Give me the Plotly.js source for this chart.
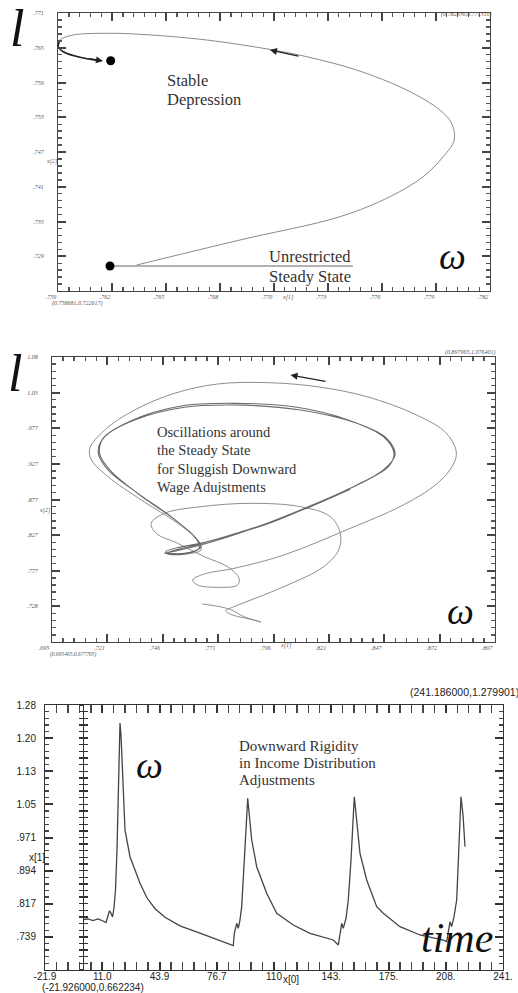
<!DOCTYPE html>
<html><head><meta charset="utf-8">
<script src="https://cdn.plot.ly/plotly-3.0.1.min.js"></script>
<style>html,body{margin:0;padding:0;background:#fff}#chart{width:518px;height:993px}</style>
</head><body><div id="chart"></div>
<script>
// ---------- Panel 1 : Stable Depression (x[1] = omega, x[2] = l) ----------
const p1XRange = [0.758681, 0.782336];
const p1YRange = [0.722617, 0.771310];
const p1XTickText = ['.759','.762','.765','.768','.770','.773','.776','.779','.782'];
const p1YTickText = ['','.729','.735','.741','.747','.753','.759','.765','.771'];
const p1TrajX = [0.762989,0.768644,0.774119,0.776856,0.778679,0.779773,0.780376,0.780233,0.779593,0.777770,0.775033,0.772296,0.770467,0.766821,0.763170,0.761347,0.759519,0.758790,0.758697,0.758971,0.759885,0.760980];
const p1TrajY = [0.727171,0.731550,0.735631,0.739134,0.742637,0.746140,0.749065,0.751990,0.754320,0.757823,0.761326,0.763656,0.764829,0.766581,0.767579,0.767754,0.767457,0.766581,0.765407,0.764531,0.763551,0.762955];
const p1SteadyLineX = [0.761528, 0.774830];
const p1SteadyLineY = [0.726997, 0.726997];
const p1DotsX = [0.761528, 0.761566];
const p1DotsY = [0.726997, 0.762955];
const p1Notes = ['Stable','Depression','Unrestricted','Steady State'];
const p1Corners = ['(0.782336,0.771310)','(0.758681,0.722617)'];

// ---------- Panel 2 : Oscillations ----------
const p2XRange = [0.695465, 0.897965];
const p2YRange = [0.677765, 1.076401];
const p2XTickText = ['.695','.721','.746','.771','.796','.821','.847','.872','.897'];
const p2YTickText = ['','.728','.777','.827','.877','.927','.977','1.03','1.08'];
const p2TransX = [0.76416,0.77644,0.78327,0.79100,0.78630,0.77720,0.77493,0.77872,0.80147,0.81966,0.82649,0.82724,0.82269,0.80905,0.78630,0.76355,0.74687,0.74081,0.74308,0.75294,0.76507,0.77568,0.78099,0.78023,0.77114,0.76204,0.75976,0.76507,0.77872,0.80147,0.83179,0.85454,0.86970,0.87729,0.88032,0.87577,0.86212,0.83937,0.81663,0.79388,0.77114,0.75142,0.73322,0.71958,0.71275,0.71351,0.72109,0.73626,0.75294,0.76204,0.76355,0.75597,0.74687];
const p2TransY = [0.73092,0.72392,0.71320,0.70574,0.70947,0.71646,0.72159,0.72719,0.75516,0.78314,0.80645,0.82976,0.85307,0.86706,0.87172,0.86706,0.85774,0.84375,0.82976,0.81577,0.79712,0.78314,0.76682,0.75749,0.75423,0.75749,0.76449,0.77288,0.78081,0.79946,0.83675,0.86706,0.89503,0.91835,0.94166,0.96963,0.99528,1.02092,1.03491,1.04050,1.03864,1.02558,1.00227,0.97430,0.94865,0.93233,0.90902,0.87638,0.84375,0.82044,0.80645,0.80085,0.80179];
const p2CycleX = [0.74687,0.76355,0.78630,0.80905,0.83179,0.84696,0.85226,0.84847,0.83483,0.80905,0.77872,0.75597,0.73322,0.71958,0.71654,0.72109,0.73474,0.74991,0.76052,0.76355,0.75900,0.74839,0.74763,0.76810,0.79388,0.81663,0.83634,0.84923,0.85181,0.84696,0.83179,0.80753,0.77872,0.75445,0.73171,0.71882,0.71730,0.72261,0.73626,0.75142,0.76128,0.76280,0.75597,0.74839,0.76507,0.78933,0.81360,0.83179];
const p2CycleY = [0.80179,0.81344,0.83536,0.86240,0.89270,0.91835,0.93933,0.96264,0.98362,1.00227,1.00926,1.00600,0.98828,0.96497,0.94399,0.91835,0.88571,0.85307,0.82510,0.81111,0.80272,0.80085,0.80412,0.81950,0.84282,0.87172,0.89970,0.92301,0.94166,0.96497,0.98735,1.00600,1.01159,1.00786,0.98735,0.96264,0.94073,0.91602,0.88198,0.84934,0.82277,0.80878,0.80179,0.80272,0.81671,0.83909,0.86706,0.89130];
const p2Notes = ['Oscillations around','the Steady State','for Sluggish Downward','Wage Adujstments'];
const p2Corners = ['(0.897965,1.076401)','(0.695465,0.677765)'];

// ---------- Panel 3 : omega over time ----------
const p3XRange = [-21.926, 241.186];
const p3YRange = [0.662234, 1.279901];
const p3XTickText = ['-21.9','11.0','43.9','76.7','110','143.','175.','208.','241.'];
const p3YTickText = ['','.739','.817','.894','.971','1.05','1.13','1.20','1.28'];
const p3Time = [0,2.77,5.65,8.52,11.39,13.12,14.26,15.13,15.99,16.85,17.71,18.57,19.43,20.01,20.58,21.16,21.73,22.31,23.05,24.03,26.90,32.65,36.70,41.30,47.00,55.60,67.10,86.25,86.82,88.20,89.12,90.10,91.07,92.39,93.54,94.52,95.84,96.82,99.69,105.43,111.18,120.71,130.31,143.69,146.57,147.54,148.52,149.44,150.99,152.31,153.86,155.76,157.14,159.03,162.88,168.63,172.42,182.01,193.50,206.89,208.84,209.76,210.74,211.71,213.04,214.59,215.91,217.06,218.21,219.36];
const p3Omega = [0.77994,0.78111,0.77761,0.78111,0.77645,0.77295,0.78810,0.80025,0.79509,0.78577,0.80675,0.84870,0.94194,1.05848,1.15171,1.23795,1.20998,1.15171,1.04682,0.98855,0.92632,0.86432,0.83000,0.80500,0.78500,0.76500,0.74800,0.71888,0.74778,0.77109,0.75944,0.77878,0.80978,0.89532,0.98855,1.06244,1.01186,0.96524,0.90301,0.84101,0.79439,0.76712,0.74778,0.73216,0.72051,0.74778,0.77109,0.75944,0.78274,0.82540,0.91863,1.06617,1.01186,0.93425,0.87201,0.80978,0.79439,0.76317,0.74382,0.73216,0.72820,0.75547,0.77482,0.76317,0.78647,0.82540,0.94194,1.06617,1.02351,0.94963];
const p3Notes = ['Downward Rigidity','in Income Distribution','Adjustments'];
const p3Corners = ['(241.186000,1.279901)','(-21.926000,0.662234)'];

// ---------- layout helpers ----------
const W = 518, H = 993;
const px = v => v / W;
const py = v => 1 - v / H;
const SERIF = 'Liberation Serif, Times New Roman, serif';
const SANS = 'Liberation Sans, Arial, sans-serif';

function divisions(range, n) {
  const out = [];
  for (let i = 0; i <= n; i++) out.push(range[0] + i * (range[1] - range[0]) / n);
  return out;
}
function minorOf(range, color, len, side) {
  return {ticks: side || 'inside', ticklen: len || 4, tickwidth: 1.4, tickcolor: color,
          tickmode: 'array', tickvals: divisions(range, 40), showgrid: false};
}
function mkAxis(range, labels, domain, color, minorColor, tickfont, extra) {
  return Object.assign({
    domain: domain, range: range, tickmode: 'array', tickvals: divisions(range, 8), ticktext: labels,
    ticks: 'inside', ticklen: 8, tickwidth: 2, tickcolor: color,
    showline: true, linecolor: color, linewidth: 1, mirror: 'allticks',
    showgrid: false, zeroline: false, fixedrange: true, tickfont: tickfont,
    minor: minorOf(range, minorColor, 4)
  }, extra || {});
}

const tinyFont = {family: SERIF, size: 6, color: '#555', style: 'italic'};
const sansFont = {family: SANS, size: 10.5, color: '#222'};
const sansTick = {family: SANS, size: 10, color: '#222'};

const d1x = [px(58), px(490)], d1y = [py(291), py(13)];
const d2x = [px(52), px(495)], d2y = [py(642), py(357)];
const d3x = [px(45), px(503)], d3y = [py(970), py(705)];
const zeroPos = d3x[0] + (0 - p3XRange[0]) / (p3XRange[1] - p3XRange[0]) * (d3x[1] - d3x[0]);

const traces = [
  {x: p1SteadyLineX, y: p1SteadyLineY, xaxis: 'x', yaxis: 'y', mode: 'lines',
   line: {color: '#666', width: 1.2}, hoverinfo: 'skip'},
  {x: p1TrajX, y: p1TrajY, xaxis: 'x', yaxis: 'y', mode: 'lines',
   line: {color: '#8a8a8a', width: 1, shape: 'spline', smoothing: 1}, hoverinfo: 'skip'},
  {x: p1TrajX.slice(-5), y: p1TrajY.slice(-5), xaxis: 'x', yaxis: 'y', mode: 'lines',
   line: {color: '#222', width: 1.6, shape: 'spline', smoothing: 1}, hoverinfo: 'skip'},
  {x: p1DotsX, y: p1DotsY, xaxis: 'x', yaxis: 'y', mode: 'markers',
   marker: {color: '#000', size: 9}, hoverinfo: 'skip'},

  {x: p2TransX, y: p2TransY, xaxis: 'x2', yaxis: 'y2', mode: 'lines',
   line: {color: '#8e8e8e', width: 1, shape: 'spline', smoothing: 1}, hoverinfo: 'skip'},
  {x: p2CycleX, y: p2CycleY, xaxis: 'x2', yaxis: 'y2', mode: 'lines',
   line: {color: '#6a6a6a', width: 1.1, shape: 'spline', smoothing: 1}, hoverinfo: 'skip'},

  {x: p3Time, y: p3Omega, xaxis: 'x3', yaxis: 'y3', mode: 'lines',
   line: {color: '#444', width: 1.3}, hoverinfo: 'skip'},
  {x: [p3XRange[0]], y: [p3YRange[0]], xaxis: 'x3', yaxis: 'y4', mode: 'markers',
   marker: {opacity: 0}, hoverinfo: 'skip'},
  {x: [p3XRange[0]], y: [p3YRange[0]], xaxis: 'x3', yaxis: 'y5', mode: 'markers',
   marker: {opacity: 0}, hoverinfo: 'skip'}
];

function note(text, x, y, font, xanchor, yanchor) {
  return {text: text, xref: 'paper', yref: 'paper', x: px(x), y: py(y),
          xanchor: xanchor || 'left', yanchor: yanchor || 'middle',
          showarrow: false, font: font};
}
function arrow(xr, yr, tip, tail) {
  return {xref: xr, yref: yr, axref: xr, ayref: yr, x: tip[0], y: tip[1], ax: tail[0], ay: tail[1],
          text: '', showarrow: true, arrowhead: 2, arrowsize: 1, arrowwidth: 1.4, arrowcolor: '#222'};
}

const f1 = {family: SERIF, size: 16.5, color: '#333'};
const f2 = {family: SERIF, size: 14.5, color: '#333'};
const f3 = {family: SERIF, size: 15, color: '#333'};
const bigItal = s => ({family: SERIF, size: s, color: '#111', style: 'italic'});

const annotations = [
  note('l', 17, 28, bigItal(52), 'center'),
  note('ω', 452, 256, bigItal(38), 'center'),
  note(p1Notes[0], 165, 81, f1), note(p1Notes[1], 165, 100, f1),
  note(p1Notes[2], 267, 256, f1), note(p1Notes[3], 267, 276, f1),
  note(p1Corners[0], 494, 15, tinyFont, 'right'),
  note(p1Corners[1], 50, 303, tinyFont),
  note('x[1]', 288, 297, tinyFont, 'center'),
  note('x[2]', 52, 162, tinyFont, 'center'),
  arrow('x', 'y', [0.770287, 0.764829], [0.771929, 0.763691]),
  arrow('x', 'y', [0.761144, 0.762903], [0.760323, 0.763340]),

  note('l', 15, 373, bigItal(52), 'center'),
  note('ω', 460, 611, bigItal(38), 'center'),
  note(p2Notes[0], 155, 432, f2), note(p2Notes[1], 155, 450, f2),
  note(p2Notes[2], 155, 469, f2), note(p2Notes[3], 155, 487, f2),
  note(p2Corners[0], 498, 352, tinyFont, 'right'),
  note(p2Corners[1], 48, 654, {family: SERIF, size: 5.5, color: '#555', style: 'italic'}),
  note('x[1]', 286, 645, tinyFont, 'center'),
  note('x[2]', 45, 511, tinyFont, 'center'),
  arrow('x2', 'y2', [0.80450, 1.05122], [0.82118, 1.04190]),

  note('ω', 149, 765, bigItal(38), 'center'),
  note('time', 457, 938, bigItal(42), 'center'),
  note(p3Notes[0], 237, 746, f3), note(p3Notes[1], 237, 763, f3), note(p3Notes[2], 237, 780, f3),
  note(p3Corners[0], 408, 692, sansFont),
  note(p3Corners[1], 40, 987, sansTick),
  note('x[1]', 37, 857, sansTick, 'center'),
  note('x[0]', 291, 979, sansTick, 'center')
];

const layout = {
  width: W, height: H, margin: {l: 0, r: 0, t: 0, b: 0},
  paper_bgcolor: '#fff', plot_bgcolor: 'rgba(0,0,0,0)', showlegend: false,
  xaxis: mkAxis(p1XRange, p1XTickText, d1x, '#444', '#555', tinyFont, {anchor: 'y', ticklabelstandoff: 0, ticklabelshift: -7}),
  yaxis: mkAxis(p1YRange, p1YTickText, d1y, '#444', '#555', tinyFont, {anchor: 'x', ticklabelstandoff: 12}),
  xaxis2: mkAxis(p2XRange, p2XTickText, d2x, '#444', '#555', tinyFont, {anchor: 'y2', ticklabelstandoff: 0, ticklabelshift: -8}),
  yaxis2: mkAxis(p2YRange, p2YTickText, d2y, '#444', '#555', tinyFont, {anchor: 'x2', ticklabelstandoff: 12}),
  xaxis3: mkAxis(p3XRange, p3XTickText, d3x, '#333', '#444', sansTick, {anchor: 'y3', ticklabelstandoff: -3}),
  yaxis3: mkAxis(p3YRange, p3YTickText, d3y, '#333', '#444', sansTick, {anchor: 'x3', ticklabelstandoff: 6}),
  yaxis4: mkAxis(p3YRange, p3YTickText.map(() => ''), d3y, '#333', '#333', sansTick,
    {overlaying: 'y3', anchor: 'free', position: zeroPos, mirror: false, ticks: 'outside', ticklen: 7, showticklabels: false,
     minor: minorOf(p3YRange, '#333', 4, 'outside')}),
  yaxis5: mkAxis(p3YRange, p3YTickText.map(() => ''), d3y, '#333', '#333', sansTick,
    {overlaying: 'y3', anchor: 'free', position: zeroPos, mirror: false, ticks: 'inside', ticklen: 7, showticklabels: false,
     minor: minorOf(p3YRange, '#333', 4, 'inside')}),
  annotations: annotations
};

Plotly.newPlot('chart', traces, layout, {staticPlot: true, displayModeBar: false});
</script>
</body></html>
